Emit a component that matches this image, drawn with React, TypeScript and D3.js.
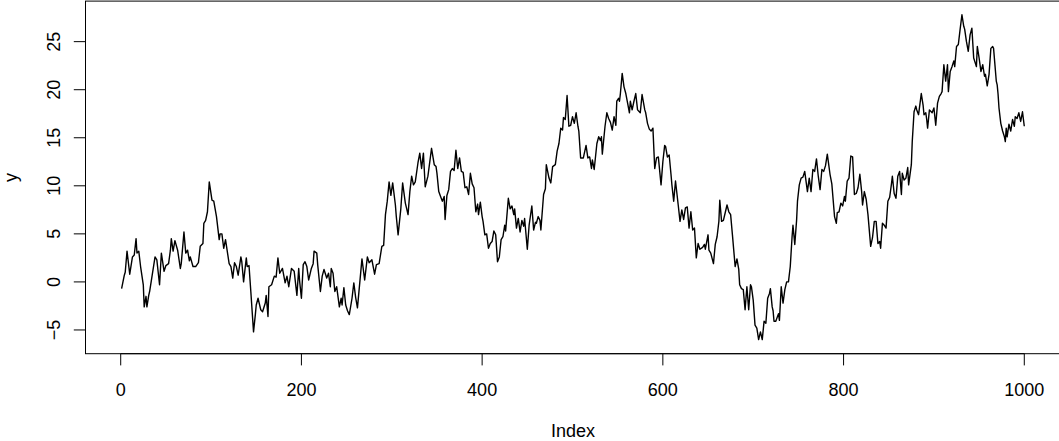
import React from "react";
import * as d3 from "d3";

// random walk: [index, value]
const walk: [number, number][] = [
  [1, -0.7], [4, 0.7], [5, 1.0], [7, 3.2], [10, 0.8], [13, 2.6], [15, 2.8], [17, 4.5], [18, 3.0], [20, 3.2],
  [22, 1.6], [25, -0.3], [26, -2.6], [28, -1.5], [29, -2.6], [31, -1.4], [32, -1.0], [38, 2.6], [40, 2.3], [43, -0.3],
  [45, 3.0], [48, 1.1], [50, 1.7], [53, 1.9], [55, 3.3], [56, 4.5], [58, 3.2], [60, 4.3], [63, 3.3], [66, 1.4],
  [67, 1.9], [70, 5.2], [72, 3.0], [74, 3.3], [76, 2.2], [77, 2.6], [80, 1.6], [83, 1.6], [86, 2.0], [88, 3.7],
  [91, 4.0], [92, 6.1], [94, 6.4], [96, 7.3], [98, 10.4], [101, 8.5], [103, 8.4], [106, 6.8], [109, 4.4], [110, 5.0],
  [112, 5.0], [114, 3.5], [116, 4.4], [120, 1.9], [122, 1.6], [124, 0.4], [126, 2.0], [128, 1.6], [130, 0.7], [133, 2.6],
  [134, 2.1], [136, 0.0], [139, 2.5], [140, 1.6], [142, 1.7], [144, -1.0], [147, -5.2], [149, -3.4], [150, -2.4], [152, -1.7],
  [155, -2.9], [157, -3.1], [160, -2.2], [161, -1.4], [163, -3.6], [164, -0.5], [167, -0.3], [170, 0.6], [172, 0.5], [174, 2.5],
  [176, 0.9], [179, 1.4], [182, -0.1], [184, 0.6], [186, -0.5], [189, 1.4], [192, 1.1], [195, -1.4], [197, 1.4], [198, 0.1],
  [200, -1.7], [202, 1.8], [204, 2.1], [206, 1.6], [208, 0.2], [211, 1.4], [213, 1.9], [214, 3.2], [217, 3.0], [218, 1.8],
  [221, -1.0], [223, 0.6], [225, 1.3], [228, 0.4], [230, 0.9], [232, -0.5], [233, 1.4], [235, 0.9], [237, -1.0], [239, -0.5],
  [242, -2.6], [244, -1.7], [245, -2.4], [247, -0.6], [249, -2.4], [251, -3.0], [253, -3.4], [256, -1.7], [258, -0.1], [260, -1.6],
  [262, -2.7], [267, 2.4], [270, 0.2], [273, 2.6], [275, 2.0], [278, 2.3], [281, 0.8], [283, 1.8], [286, 1.9], [289, 3.7],
  [291, 3.8], [293, 7.0], [295, 8.4], [297, 10.4], [299, 9.0], [301, 10.3], [304, 8.0], [305, 6.8], [307, 4.9], [310, 7.6],
  [312, 10.3], [315, 8.2], [316, 7.8], [318, 7.0], [320, 9.4], [322, 11.0], [324, 10.1], [326, 10.4], [329, 12.4], [331, 13.4],
  [333, 11.8], [335, 13.4], [337, 9.9], [340, 11.0], [344, 13.9], [347, 12.2], [349, 12.0], [350, 11.3], [352, 9.4], [354, 8.9],
  [356, 8.4], [358, 8.9], [359, 6.5], [361, 9.0], [363, 9.6], [365, 11.5], [367, 11.8], [369, 11.6], [371, 13.7], [373, 11.8],
  [375, 12.9], [377, 11.5], [379, 11.4], [381, 9.8], [383, 9.9], [385, 9.1], [387, 11.3], [389, 10.2], [391, 9.8], [393, 7.3],
  [395, 8.1], [396, 7.0], [398, 8.3], [400, 6.8], [401, 6.3], [403, 4.9], [405, 5.0], [407, 3.5], [409, 4.0], [411, 4.2],
  [413, 5.3], [415, 4.9], [417, 2.1], [419, 2.6], [421, 4.4], [423, 4.7], [425, 5.9], [426, 5.3], [429, 8.7], [431, 7.6],
  [433, 7.9], [435, 7.0], [436, 7.6], [438, 5.6], [440, 6.6], [442, 5.2], [444, 6.4], [446, 5.8], [447, 6.6], [450, 3.4],
  [452, 5.9], [455, 7.9], [457, 5.4], [459, 6.2], [460, 6.1], [462, 6.8], [464, 6.4], [465, 5.4], [468, 9.1], [470, 9.7],
  [471, 12.2], [474, 10.8], [476, 10.3], [478, 12.0], [481, 12.2], [483, 13.6], [485, 14.4], [487, 16.0], [489, 15.8], [490, 17.1],
  [492, 16.9], [494, 19.4], [496, 16.2], [498, 16.3], [500, 17.2], [502, 16.5], [504, 17.6], [506, 16.2], [507, 15.7], [509, 12.9],
  [512, 12.9], [515, 14.2], [517, 12.9], [519, 13.0], [521, 11.8], [522, 12.7], [524, 11.7], [527, 14.4], [529, 15.1], [531, 14.7],
  [532, 15.1], [533, 13.3], [536, 16.2], [538, 17.6], [540, 17.0], [542, 16.6], [544, 15.8], [546, 17.2], [548, 16.3], [549, 18.8],
  [551, 19.1], [552, 18.8], [553, 19.6], [555, 21.7], [557, 20.3], [559, 19.6], [561, 18.6], [563, 17.6], [564, 18.8], [566, 17.9],
  [568, 18.8], [570, 19.6], [572, 17.9], [575, 17.6], [577, 19.5], [580, 17.9], [581, 17.6], [583, 16.5], [585, 15.9], [587, 15.7],
  [589, 16.0], [591, 11.8], [593, 12.9], [595, 13.0], [598, 10.1], [600, 12.5], [602, 14.2], [603, 14.1], [605, 13.0], [607, 13.2],
  [609, 11.2], [610, 10.1], [612, 8.4], [614, 10.5], [617, 8.0], [619, 6.3], [621, 7.5], [623, 6.5], [625, 7.7], [627, 7.8],
  [629, 5.6], [631, 7.3], [633, 5.4], [635, 5.6], [637, 2.5], [639, 4.0], [641, 3.4], [644, 3.6], [646, 3.9], [647, 3.4],
  [650, 4.9], [651, 3.3], [653, 3.0], [656, 1.9], [658, 3.9], [660, 4.7], [662, 6.3], [663, 8.5], [665, 6.3], [667, 6.4],
  [669, 7.2], [671, 8.0], [673, 7.3], [675, 7.0], [677, 4.9], [680, 1.6], [682, 2.4], [684, 1.3], [685, -0.3], [687, -0.7],
  [689, -0.8], [691, -2.9], [693, -0.5], [695, -2.9], [697, -0.3], [698, -0.5], [700, -1.9], [702, -4.5], [704, -4.8], [706, -6.0],
  [708, -5.2], [710, -6.0], [712, -4.1], [714, -4.3], [716, -1.7], [718, -1.2], [719, -0.7], [721, -2.6], [722, -3.0], [723, -4.1],
  [725, -4.1], [728, -3.3], [729, -4.0], [731, -0.5], [733, -2.2], [735, -0.8], [737, 0.0], [739, 0.0], [741, 1.6], [743, 4.7],
  [744, 5.9], [746, 3.9], [748, 6.4], [749, 8.4], [751, 10.1], [753, 10.8], [755, 10.9], [757, 11.5], [760, 9.4], [762, 10.8],
  [764, 9.4], [766, 11.7], [768, 11.5], [770, 12.8], [772, 11.0], [774, 9.6], [776, 11.7], [778, 11.5], [780, 12.1], [782, 13.3],
  [785, 11.2], [787, 10.2], [790, 6.8], [792, 6.1], [793, 7.2], [795, 7.3], [797, 8.2], [799, 7.9], [801, 8.9], [802, 8.4],
  [804, 10.5], [806, 10.8], [808, 13.1], [810, 13.0], [812, 9.1], [814, 9.2], [816, 9.8], [818, 11.2], [820, 9.4], [821, 8.0],
  [823, 9.4], [825, 8.6], [827, 7.0], [830, 3.7], [832, 4.6], [834, 6.3], [836, 6.3], [838, 4.0], [840, 4.2], [841, 3.5],
  [843, 6.1], [845, 5.9], [847, 5.6], [849, 8.4], [851, 8.8], [853, 10.2], [854, 11.0], [856, 9.2], [858, 8.7], [860, 11.0],
  [862, 11.5], [864, 9.1], [865, 11.3], [867, 10.6], [869, 10.8], [871, 11.9], [872, 10.1], [875, 12.2], [876, 14.6], [878, 17.7],
  [880, 18.3], [881, 17.9], [883, 17.4], [886, 19.6], [888, 18.4], [889, 17.4], [891, 17.6], [892, 16.9], [893, 16.0], [895, 17.9],
  [897, 17.7], [898, 17.6], [900, 18.1], [902, 16.3], [904, 18.6], [906, 19.3], [908, 19.6], [909, 19.8], [911, 22.6], [913, 20.9],
  [915, 22.6], [916, 19.8], [918, 21.9], [920, 22.4], [922, 23.0], [923, 22.4], [925, 24.5], [927, 24.7], [929, 26.3], [931, 27.8],
  [933, 26.6], [934, 26.3], [936, 25.0], [938, 24.0], [940, 25.7], [942, 26.4], [944, 23.3], [945, 23.0], [947, 22.4], [948, 24.5],
  [950, 23.3], [952, 21.9], [954, 22.6], [956, 21.4], [957, 21.6], [959, 20.4], [961, 21.6], [963, 24.3], [965, 24.5], [966, 24.3],
  [969, 20.9], [970, 20.5], [971, 19.5], [972, 18.1], [974, 16.5], [976, 15.7], [978, 15.1], [979, 14.6], [980, 16.0], [981, 15.1],
  [983, 16.4], [985, 15.7], [987, 16.9], [989, 16.2], [990, 17.2], [992, 17.0], [994, 17.6], [996, 16.7], [998, 17.7], [1000, 16.2],
];

const xTicks = [0, 200, 400, 600, 800, 1000];
const yTicks = [-5, 0, 5, 10, 15, 20, 25];
const xTitle = "Index";
const yTitle = "y";

const width = 1059;
const height = 441;
const font = "'Liberation Sans', Arial, Helvetica, sans-serif";

// R-style 4% padded limits
const xLim = [-38.96, 1039.96];
const yLim = [-7.47, 29.22];

export default function App() {
  const x = d3.scaleLinear().domain(xLim).range([85.5, 1060.4]);
  const y = d3.scaleLinear().domain(yLim).range([353.7, 1.1]);
  const fmt = d3.format("d");

  const line = d3.line<[number, number]>()
    .x(d => x(d[0]))
    .y(d => y(d[1]));

  const left = x(xLim[0]);
  const right = x(xLim[1]);
  const top = y(yLim[1]);
  const bottom = y(yLim[0]);
  const tick = 11.7;

  return (
    <svg width={width} height={height} style={{ position: "absolute", left: 0, top: 0 }}
      fontFamily={font} fontSize={18}>
      <rect width={width} height={height} fill="#fff" />
      <path d={line(walk) ?? ""} fill="none" stroke="#000" strokeWidth={1.4} strokeLinejoin="round" />
      <rect x={left} y={top} width={right - left} height={bottom - top} fill="none" stroke="#000" strokeWidth={1} />

      {/* x axis */}
      <line x1={x(xTicks[0])} x2={x(xTicks[xTicks.length - 1])} y1={bottom} y2={bottom} stroke="#000" />
      {xTicks.map(t => (
        <g key={t}>
          <line x1={x(t)} x2={x(t)} y1={bottom} y2={bottom + tick} stroke="#000" />
          <text x={x(t)} y={bottom + 42} textAnchor="middle" fill="#000">{fmt(t)}</text>
        </g>
      ))}

      {/* y axis */}
      <line x1={left} x2={left} y1={y(yTicks[0])} y2={y(yTicks[yTicks.length - 1])} stroke="#000" />
      {yTicks.map(t => (
        <g key={t}>
          <line x1={left} x2={left - tick} y1={y(t)} y2={y(t)} stroke="#000" />
          <text transform={`translate(${left - 25.5},${y(t)}) rotate(-90)`} textAnchor="middle" fill="#000">{fmt(t)}</text>
        </g>
      ))}

      <text x={(left + right) / 2} y={437} textAnchor="middle" fill="#000">{xTitle}</text>
      <text transform={`translate(16.5,${(top + bottom) / 2}) rotate(-90)`} textAnchor="middle" fill="#000">{yTitle}</text>
    </svg>
  );
}
